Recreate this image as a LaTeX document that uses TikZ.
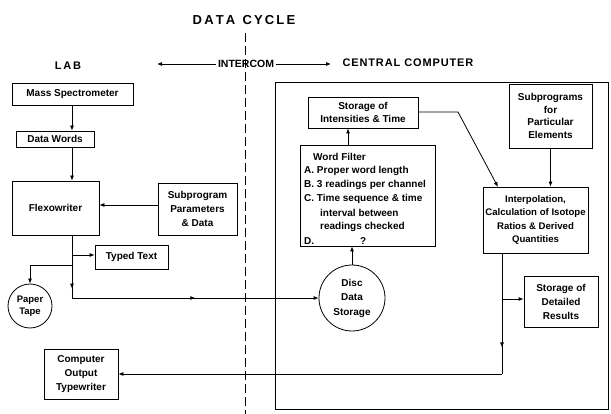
\documentclass[tikz,border=0pt]{standalone}
\usepackage{fontspec}
\setmainfont{Liberation Sans}
\usetikzlibrary{arrows.meta,decorations.markings,calc}
\begin{document}
\begin{tikzpicture}[x=1pt,y=-1pt,
  every node/.style={font=\bfseries\fontsize{10}{13}\selectfont},
  box/.style={draw,line width=0.8pt,align=center,inner sep=1pt,minimum width=#1},
  circ/.style={draw,circle,line width=0.8pt,align=center,inner sep=0pt,minimum size=#1},
  ln/.style={line width=0.8pt},
  tip/.style={-{Latex[length=5pt,width=4pt]}},
  midtip/.style={postaction={decorate},decoration={markings,mark=at position #1 with {\arrow{Latex[length=5pt,width=4pt]}}}},
  ttl/.style={font=\bfseries\fontsize{13}{15}\selectfont}
]
\useasboundingbox (0,0) rectangle (611,414);
% titles
\node[ttl] (title) at (244,20) {D\,A\,T\,A\ \ C\,Y\,C\,L\,E};
\node[font=\bfseries\fontsize{11}{13}\selectfont] (lab) at (68,66) {L\,A\,B};
\node[font=\bfseries\fontsize{10.5}{12}\selectfont,inner sep=2pt] (ic) at (246,64) {INTERCOM};
\node[font=\bfseries\fontsize{11}{13}\selectfont\addfontfeature{LetterSpace=8},anchor=west] (cc) at (339,63) {CENTRAL COMPUTER};
\coordinate (icl) at (157,64);
\coordinate (icr) at (331,64);
\draw[ln,tip] (ic.west) -- (icl);
\draw[ln,tip] (ic.east) -- (icr);
% dashed divider
\coordinate (dtop) at (245,33);
\coordinate (dbot) at (245,414);
\draw[line width=0.7pt,dash pattern=on 9pt off 4pt] (dtop) -- (dbot);
% central computer frame
\draw[ln] (275,82) rectangle (608,409);
% lab nodes
\node[box=121pt,minimum height=22pt] (ms) at (72.5,94) {Mass Spectrometer};
\node[box=78pt,minimum height=16pt] (dw) at (55,139) {Data Words};
\node[box=87pt,minimum height=54pt] (fw) at (55.5,208) {Flexowriter};
\node[box=79pt,minimum height=52pt,font=\bfseries\fontsize{10}{14}\selectfont] (sp) at (197.5,209) {Subprogram\\Parameters\\\& Data};
\node[box=73pt,minimum height=24pt] (tt) at (131.5,257) {Typed Text};
\node[circ=44pt,font=\bfseries\fontsize{9.5}{12}\selectfont] (pt) at (30,306) {Paper\\Tape};
\node[box=74pt,minimum height=50pt,font=\bfseries\fontsize{10}{14}\selectfont] (cot) at (81,374) {Computer\\Output\\Typewriter};
% central nodes
\node[box=110pt,minimum height=31pt] (sit) at (363,112.5) {Storage of\\Intensities \& Time};
\node[draw,line width=0.8pt,minimum width=135pt,minimum height=101pt] (wf) at (367.5,195.5) {};
\node[anchor=west,inner sep=0pt] (wf0) at (313,157) {Word Filter};
\node[anchor=west,inner sep=0pt] (wf1) at (304,171) {A. Proper word length};
\node[anchor=west,inner sep=0pt] (wf2) at (304,185) {B. 3 readings per channel};
\node[anchor=west,inner sep=0pt] (wf3) at (304,199) {C. Time sequence \& time};
\node[anchor=west,inner sep=0pt] (wf4) at (320,213) {interval between};
\node[anchor=west,inner sep=0pt] (wf5) at (320,227) {readings checked};
\node[anchor=west,inner sep=0pt] (wf6) at (304,241) {D.\hspace{46pt}?};
\node[circ=66pt,font=\bfseries\fontsize{10}{14.5}\selectfont] (disc) at (352,298) {Disc\\Data\\Storage};
\node[box=83pt,minimum height=64pt,font=\bfseries\fontsize{10}{12.5}\selectfont] (spe) at (550.5,116) {Subprograms\\for\\Particular\\Elements};
\node[box=105pt,minimum height=66pt,font=\bfseries\fontsize{9.6}{13.5}\selectfont] (ip) at (535.5,220) {Interpolation,\\Calculation of Isotope\\Ratios \& Derived\\Quantities};
\node[box=74pt,minimum height=51pt,font=\bfseries\fontsize{10}{14}\selectfont] (sdr) at (561,301.5) {Storage of\\Detailed\\Results};
% lab connectors
\coordinate (sx) at (72,0);
\draw[ln,tip] (ms.south -| sx) -- (dw.north -| sx);
\draw[ln,tip] (dw.south -| sx) -- (fw.north -| sx);
\draw[ln,tip] (sp.west |- 0,205) -- (fw.east |- 0,205);
\coordinate (b1) at (72,255);
\coordinate (b2) at (72,265);
\coordinate (b3) at (30,265);
\coordinate (b4) at (72,298);
\draw[ln,midtip=0.85] (fw.south -| sx) -- (b4);
\draw[ln,tip] (b1) -- (tt.west |- b1);
\draw[ln,tip] (b2) -- (b3) -- (pt.north);
\draw[ln,tip,midtip=0.5] (b4) -- (disc.west);
% central connectors
\draw[ln,tip] (disc.north) -- (disc.north |- wf.south);
\coordinate (wx) at (348,0);
\draw[ln,tip] (wf.north -| wx) -- (sit.south -| wx);
\coordinate (bend) at (458,112);
\coordinate (ipin) at (498,187);
\draw[ln,tip] (sit.east |- bend) -- (bend) -- (ipin);
\draw[ln,tip] (spe.south) -- (spe.south |- ip.north);
\coordinate (ix) at (502,0);
\coordinate (r1) at (502,299);
\coordinate (r2) at (502,374);
\draw[ln,midtip=0.78] (ip.south -| ix) -- (r2);
\draw[ln,tip] (r1) -- (sdr.west |- r1);
\draw[ln,tip] (r2) -- (cot.east |- r2);
\end{tikzpicture}
\end{document}
